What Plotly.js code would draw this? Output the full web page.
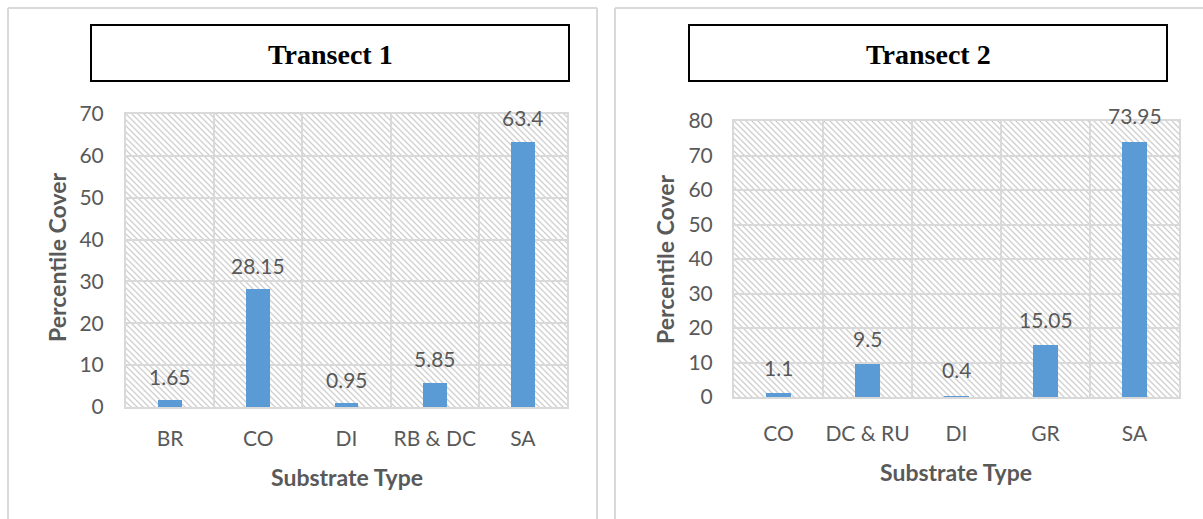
<!DOCTYPE html>
<html>
<head>
<meta charset="utf-8">
<script src="https://cdn.plot.ly/plotly-3.0.1.min.js"></script>
<style>
  html, body { margin: 0; padding: 0; background: #ffffff; }
  #chart { width: 1203px; height: 519px; }
</style>
</head>
<body>
<div id="chart"></div>
<script>
// Substrate cover per transect (percent)
const t1Title = 'Transect 1';
const t1Cats = ['BR', 'CO', 'DI', 'RB & DC', 'SA'];
const t1Vals = [1.65, 28.15, 0.95, 5.85, 63.4];

const t2Title = 'Transect 2';
const t2Cats = ['CO', 'DC & RU', 'DI', 'GR', 'SA'];
const t2Vals = [1.1, 9.5, 0.4, 15.05, 73.95];

const yTitle = 'Percentile Cover';
const xTitle = 'Substrate Type';

const W = 1203, H = 519;
const px = x => x / W;
const py = y => 1 - y / H;

const BAR = '#5b9bd5';
const GRID = '#d9d9d9';
const TXT = '#595959';
const FONT = 'Lato, "Open Sans", sans-serif';

// Diagonal hatch used as the plot-area background
function hatch(w, h) {
  const svg =
    '<svg xmlns="http://www.w3.org/2000/svg" width="' + w + '" height="' + h + '">' +
    '<defs><pattern id="p" patternUnits="userSpaceOnUse" width="6" height="6">' +
    '<path d="M0,0 L6,6 M-1,5 L1,7 M5,-1 L7,1" stroke="#cfcfcf" stroke-width="1.3"/>' +
    '</pattern></defs>' +
    '<rect width="' + w + '" height="' + h + '" fill="#ffffff"/>' +
    '<rect width="' + w + '" height="' + h + '" fill="url(#p)"/></svg>';
  return 'data:image/svg+xml;charset=utf-8,' + encodeURIComponent(svg);
}

// Plot-area boxes in page pixels
const P1 = { l: 126, r: 567, t: 114, b: 407 };
const P2 = { l: 734, r: 1179, t: 121, b: 397 };

function xAxis(box, anchor, standoff) {
  return {
    domain: [px(box.l), px(box.r)],
    anchor: anchor,
    type: 'category',
    tickson: 'boundaries',
    ticks: '',
    tickangle: 0,
    showgrid: true, gridcolor: GRID, gridwidth: 2,
    showline: true, mirror: true, linecolor: GRID, linewidth: 2,
    zeroline: false,
    tickfont: { family: FONT, size: 21, color: TXT },
    ticklabelstandoff: standoff,
    fixedrange: true
  };
}
function yAxis(box, anchor, max, standoff) {
  return {
    domain: [py(box.b), py(box.t)],
    anchor: anchor,
    range: [0, max],
    dtick: 10,
    ticks: '',
    showgrid: true, gridcolor: GRID, gridwidth: 2,
    showline: true, mirror: true, linecolor: GRID, linewidth: 2,
    zeroline: false,
    tickfont: { family: FONT, size: 21, color: TXT },
    ticklabelstandoff: standoff,
    fixedrange: true
  };
}

const traces = [
  { type: 'bar', x: t1Cats, y: t1Vals, xaxis: 'x', yaxis: 'y',
    width: 0.27, marker: { color: BAR }, hoverinfo: 'x+y' },
  { type: 'bar', x: t2Cats, y: t2Vals, xaxis: 'x2', yaxis: 'y2',
    width: 0.27, marker: { color: BAR }, hoverinfo: 'x+y' }
];

function valueLabels(cats, vals, xr, yr, shift) {
  return cats.map((c, i) => ({
    xref: xr, yref: yr, x: c, y: vals[i],
    text: String(vals[i]), showarrow: false,
    yanchor: 'middle', yshift: shift,
    font: { family: FONT, size: 21, color: TXT }
  }));
}

function textAt(x, y, text, font, angle) {
  return { xref: 'paper', yref: 'paper', x: px(x), y: py(y), text: text,
           showarrow: false, xanchor: 'center', yanchor: 'middle',
           textangle: angle || 0, font: font };
}

const titleFont = { family: '"Liberation Serif", "Times New Roman", serif', size: 28, color: '#000000', weight: 'bold' };
const axTitleFont = { family: FONT, size: 23, color: TXT, weight: 'bold' };

const annotations = []
  .concat(valueLabels(t1Cats, t1Vals, 'x', 'y', 24))
  .concat(valueLabels(t2Cats, t2Vals, 'x2', 'y2', 26))
  .concat([
    textAt(330, 55, '<b>' + t1Title + '</b>', titleFont),
    textAt(928, 55, '<b>' + t2Title + '</b>', titleFont),
    textAt(57, 258, '<b>' + yTitle + '</b>', axTitleFont, -90),
    textAt(665, 260, '<b>' + yTitle + '</b>', axTitleFont, -90),
    textAt(347, 477, '<b>' + xTitle + '</b>', axTitleFont),
    textAt(956, 472, '<b>' + xTitle + '</b>', axTitleFont)
  ]);

function line(x0, y0, x1, y1, color, w) {
  return { type: 'line', xref: 'paper', yref: 'paper',
           x0: px(x0), y0: py(y0), x1: px(x1), y1: py(y1),
           line: { color: color, width: w } };
}
function box(x0, y0, x1, y1) {
  return { type: 'rect', xref: 'paper', yref: 'paper',
           x0: px(x0), y0: py(y0), x1: px(x1), y1: py(y1),
           fillcolor: '#ffffff', line: { color: '#000000', width: 2 } };
}

const shapes = [
  // chart frames
  line(8, 8, 597, 8, GRID, 2),
  line(8, 8, 8, 519, GRID, 2),
  line(597, 8, 597, 519, GRID, 2),
  line(615, 8, 1203, 8, GRID, 2),
  line(615, 8, 615, 519, GRID, 2),
  // title boxes
  box(91, 25, 569, 81),
  box(689, 25, 1167, 81)
];

function bgImage(b) {
  return { source: hatch(b.r - b.l, b.b - b.t), xref: 'paper', yref: 'paper',
           x: px(b.l), y: py(b.t), sizex: px(b.r) - px(b.l), sizey: py(b.t) - py(b.b),
           xanchor: 'left', yanchor: 'top', sizing: 'stretch', layer: 'below' };
}

const layout = {
  width: W, height: H,
  margin: { l: 0, r: 0, t: 0, b: 0 },
  paper_bgcolor: '#ffffff',
  plot_bgcolor: 'rgba(0,0,0,0)',
  showlegend: false,
  bargap: 0,
  xaxis: xAxis(P1, 'y', 12),
  yaxis: yAxis(P1, 'x', 70, 16),
  xaxis2: xAxis(P2, 'y2', 17),
  yaxis2: yAxis(P2, 'x2', 80, 15),
  images: [bgImage(P1), bgImage(P2)],
  shapes: shapes,
  annotations: annotations
};

Plotly.newPlot('chart', traces, layout, { displayModeBar: false, staticPlot: true });
</script>
</body>
</html>
